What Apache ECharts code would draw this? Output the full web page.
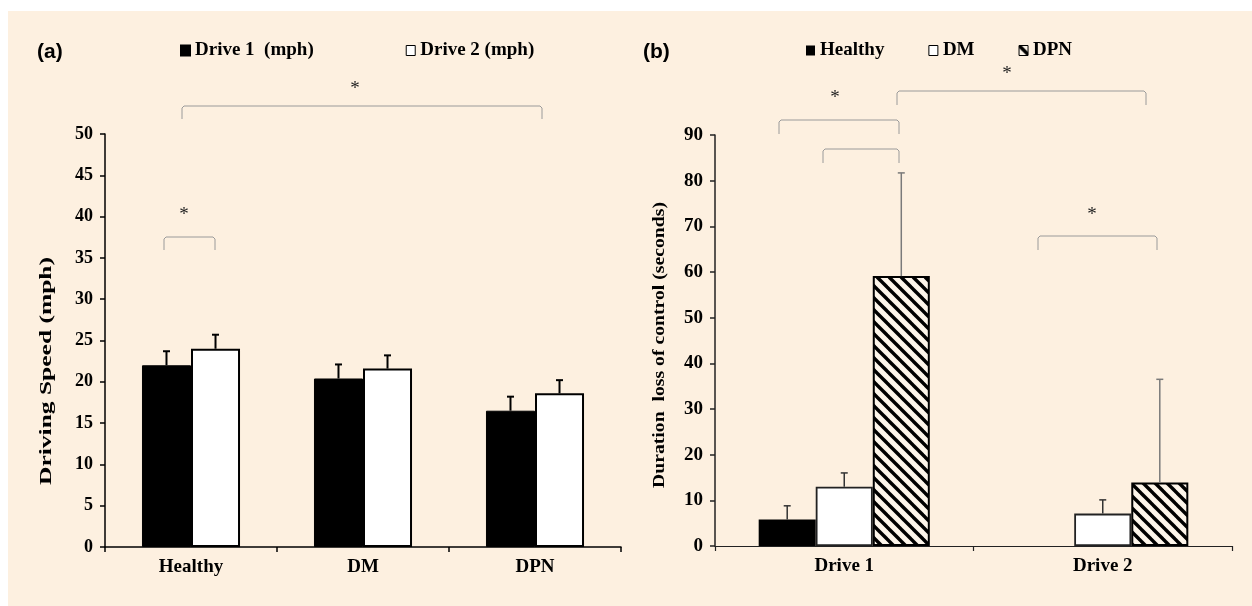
<!DOCTYPE html>
<html>
<head>
<meta charset="utf-8">
<script src="https://cdn.jsdelivr.net/npm/echarts@6/dist/echarts.min.js"></script>
<style>
  html, body { margin: 0; padding: 0; background: #ffffff; }
  #bg { position: absolute; left: 8px; top: 11px; right: 0; bottom: 0; background: #fdf0e0; }
  #chart { position: absolute; left: 0; top: 0; width: 1252px; height: 606px; }
</style>
</head>
<body>
<div id="bg"></div>
<div id="chart"></div>
<script>
// ---------- DATA ----------
// Panel (a): driving speed (mph)
const speedGroups = ['Healthy', 'DM', 'DPN'];
const drive1Speed = [22.0, 20.4, 16.5];
const drive1SpeedSD = [1.7, 1.7, 1.7];
const drive2Speed = [24.0, 21.6, 18.6];
const drive2SpeedSD = [1.7, 1.6, 1.6];
const speedMin = 0, speedMax = 50, speedStep = 5;

// Panel (b): duration of loss of control (seconds)
const drives = ['Drive 1', 'Drive 2'];
const healthyLoss = [5.8, 0];
const healthyLossSD = [3.0, null];
const dmLoss = [13.0, 7.1];
const dmLossSD = [3.0, 3.0];
const dpnLoss = [59.1, 13.9];
const dpnLossSD = [22.6, 22.6];
const lossMin = 0, lossMax = 90, lossStep = 10;

// Series / legend names
const speedSeriesNames = ['Drive 1  (mph)', 'Drive 2 (mph)'];
const lossSeriesNames = ['Healthy', 'DM', 'DPN'];

// ---------- STYLE ----------
const SERIF = '"Liberation Serif", "Times New Roman", serif';
const SANS = '"Liberation Sans", Arial, sans-serif';
const GAP_A = 0.43, GAP_B = 0.338;

// hatch pattern
const hatch = document.createElement('canvas');
hatch.width = 12; hatch.height = 12;
(function () {
  const c = hatch.getContext('2d');
  c.fillStyle = '#fdf5ea';
  c.fillRect(0, 0, 12, 12);
  c.strokeStyle = '#000';
  c.lineWidth = 3.4;
  for (let k = -1; k <= 1; k++) {
    c.beginPath();
    c.moveTo(-1, -1 + k * 12);
    c.lineTo(13, 13 + k * 12);
    c.stroke();
  }
})();

function errorSeries(values, sd, axisIdx, idx, n, gapPct, color, width) {
  return {
    type: 'custom',
    xAxisIndex: axisIdx, yAxisIndex: axisIdx,
    silent: true, z: 5,
    data: values.map((v, i) => [i, v, sd[i] == null ? NaN : sd[i]]),
    renderItem: function (params, api) {
      const cat = api.value(0), v = api.value(1), e = api.value(2);
      if (e == null || isNaN(e)) return null;
      const bandW = api.size([1, 0])[0];
      const barW = bandW * (1 - gapPct) / n;
      const base = api.coord([cat, v]);
      const top = api.coord([cat, v + e]);
      const cx = base[0] - n * barW / 2 + barW * (idx + 0.5);
      const cap = 3.5;
      return {
        type: 'group',
        children: [
          { type: 'line', shape: { x1: cx, y1: base[1], x2: cx, y2: top[1] },
            style: { stroke: color, lineWidth: width } },
          { type: 'line', shape: { x1: cx - cap, y1: top[1], x2: cx + cap, y2: top[1] },
            style: { stroke: color, lineWidth: width } }
        ]
      };
    }
  };
}

function bracket(x1, x2, yTop, yLeg) {
  return {
    type: 'polyline', silent: true,
    shape: { points: [[x1, yLeg], [x1, yTop + 2], [x1 + 2, yTop], [x2 - 2, yTop], [x2, yTop + 2], [x2, yLeg]] },
    style: { stroke: '#9a9a9a', lineWidth: 1, fill: null }
  };
}
function star(x, y) {
  return {
    type: 'text', silent: true, x: x, y: y + 5,
    style: { text: '*', font: '19px ' + SERIF, fill: '#222', textAlign: 'center', textVerticalAlign: 'middle' }
  };
}
function measure(text, font) {
  const c = document.createElement('canvas').getContext('2d');
  c.font = font;
  return c.measureText(text).width;
}
function yName(text, cx, cy, targetLen, size) {
  const font = 'bold ' + size + 'px ' + SERIF;
  const w = measure(text, font);
  return {
    type: 'text', silent: true, x: cx, y: cy, rotation: Math.PI / 2,
    scaleX: targetLen / w, scaleY: 1,
    style: { text: text, font: font, fill: '#000', textAlign: 'center', textVerticalAlign: 'middle' }
  };
}

const axisFont = { fontFamily: SERIF, fontWeight: 'bold', color: '#000' };
const legendText = { fontFamily: SERIF, fontWeight: 'bold', color: '#000', fontSize: 19, padding: [0, 0, 0, 0] };

const chart = echarts.init(document.getElementById('chart'), null, { renderer: 'canvas' });
chart.setOption({
  backgroundColor: 'transparent',
  animation: false,
  grid: [
    { left: 105, top: 134, width: 516, height: 413 },
    { left: 715, top: 135, width: 517, height: 411 }
  ],
  legend: [
    {
      left: 180, top: 41, padding: 0, itemGap: 92, itemWidth: 9, itemHeight: 10, selectedMode: false,
      icon: 'rect',
      data: [
        { name: speedSeriesNames[0] },
        { name: speedSeriesNames[1], itemStyle: { borderWidth: 1, borderColor: '#000' } }
      ],
      textStyle: legendText
    },
    {
      left: 806, top: 41, padding: 0, itemGap: 44, itemWidth: 9, itemHeight: 10, selectedMode: false,
      icon: 'rect',
      data: [
        { name: lossSeriesNames[0] },
        { name: lossSeriesNames[1], itemStyle: { borderWidth: 1, borderColor: '#000' } },
        { name: lossSeriesNames[2], itemStyle: { borderWidth: 1, borderColor: '#000' } }
      ],
      textStyle: legendText
    }
  ],
  xAxis: [
    {
      type: 'category', gridIndex: 0, data: speedGroups,
      axisLine: { lineStyle: { color: '#000', width: 1.5 } },
      axisTick: { show: true, length: 5, lineStyle: { color: '#000', width: 1.5 } },
      axisLabel: Object.assign({ fontSize: 19, margin: 11 }, axisFont),
      splitLine: { show: false }
    },
    {
      type: 'category', gridIndex: 1, data: drives,
      axisLine: { lineStyle: { color: '#222', width: 1.2 } },
      axisTick: { show: true, length: 5, lineStyle: { color: '#222', width: 1.2 } },
      axisLabel: Object.assign({ fontSize: 19, margin: 11 }, axisFont),
      splitLine: { show: false }
    }
  ],
  yAxis: [
    {
      type: 'value', gridIndex: 0, min: speedMin, max: speedMax, interval: speedStep,
      axisLine: { show: true, lineStyle: { color: '#000', width: 1.5 } },
      axisTick: { show: true, length: 5, lineStyle: { color: '#000', width: 1.5 } },
      axisLabel: Object.assign({ fontSize: 18, margin: 12 }, axisFont),
      splitLine: { show: false }
    },
    {
      type: 'value', gridIndex: 1, min: lossMin, max: lossMax, interval: lossStep,
      axisLine: { show: true, lineStyle: { color: '#222', width: 1.5 } },
      axisTick: { show: true, length: 5, lineStyle: { color: '#222', width: 1.5 } },
      axisLabel: Object.assign({ fontSize: 19, margin: 12 }, axisFont),
      splitLine: { show: false }
    }
  ],
  series: [
    {
      name: speedSeriesNames[0], type: 'bar', xAxisIndex: 0, yAxisIndex: 0,
      data: drive1Speed, barGap: '0%', barCategoryGap: (GAP_A * 100) + '%',
      itemStyle: { color: '#000', borderColor: '#000', borderWidth: 1 }
    },
    {
      name: speedSeriesNames[1], type: 'bar', xAxisIndex: 0, yAxisIndex: 0,
      data: drive2Speed, barGap: '0%', barCategoryGap: (GAP_A * 100) + '%',
      itemStyle: { color: '#ffffff', borderColor: '#000', borderWidth: 2 }
    },
    errorSeries(drive1Speed, drive1SpeedSD, 0, 0, 2, GAP_A, '#000', 2),
    errorSeries(drive2Speed, drive2SpeedSD, 0, 1, 2, GAP_A, '#000', 2),
    {
      name: lossSeriesNames[0], type: 'bar', xAxisIndex: 1, yAxisIndex: 1,
      data: healthyLoss, barGap: '0%', barCategoryGap: (GAP_B * 100) + '%',
      itemStyle: { color: '#000', borderWidth: 0 }
    },
    {
      name: lossSeriesNames[1], type: 'bar', xAxisIndex: 1, yAxisIndex: 1,
      data: dmLoss, barGap: '0%', barCategoryGap: (GAP_B * 100) + '%',
      itemStyle: { color: '#ffffff', borderColor: '#222', borderWidth: 1.8 }
    },
    {
      name: lossSeriesNames[2], type: 'bar', xAxisIndex: 1, yAxisIndex: 1,
      data: dpnLoss, barGap: '0%', barCategoryGap: (GAP_B * 100) + '%',
      itemStyle: { color: { image: hatch, repeat: 'repeat' }, borderColor: '#000', borderWidth: 2 }
    },
    errorSeries(healthyLoss, healthyLossSD, 1, 0, 3, GAP_B, '#333', 1.5),
    errorSeries(dmLoss, dmLossSD, 1, 1, 3, GAP_B, '#333', 1.5),
    errorSeries(dpnLoss, dpnLossSD, 1, 2, 3, GAP_B, '#7a7a7a', 1.5)
  ],
  graphic: [
    { type: 'text', silent: true, x: 37, y: 52,
      style: { text: '(a)', font: 'bold 21px ' + SANS, fill: '#000', textVerticalAlign: 'middle' } },
    { type: 'text', silent: true, x: 643, y: 52,
      style: { text: '(b)', font: 'bold 21px ' + SANS, fill: '#000', textVerticalAlign: 'middle' } },
    yName('Driving Speed (mph)', 47, 371, 228, 17),
    yName('Duration  loss of control (seconds)', 660, 345, 286, 17),
    // panel (a) significance brackets
    bracket(164, 215, 237, 250), star(184, 210),
    bracket(182, 542, 106, 119), star(355, 84),
    // panel (b) significance brackets
    bracket(779, 899, 120, 134), star(835, 93),
    bracket(823, 899, 149, 163),
    bracket(897, 1146, 91, 105), star(1007, 69),
    bracket(1038, 1157, 236, 250), star(1092, 210)
  ]
});
</script>
</body>
</html>
